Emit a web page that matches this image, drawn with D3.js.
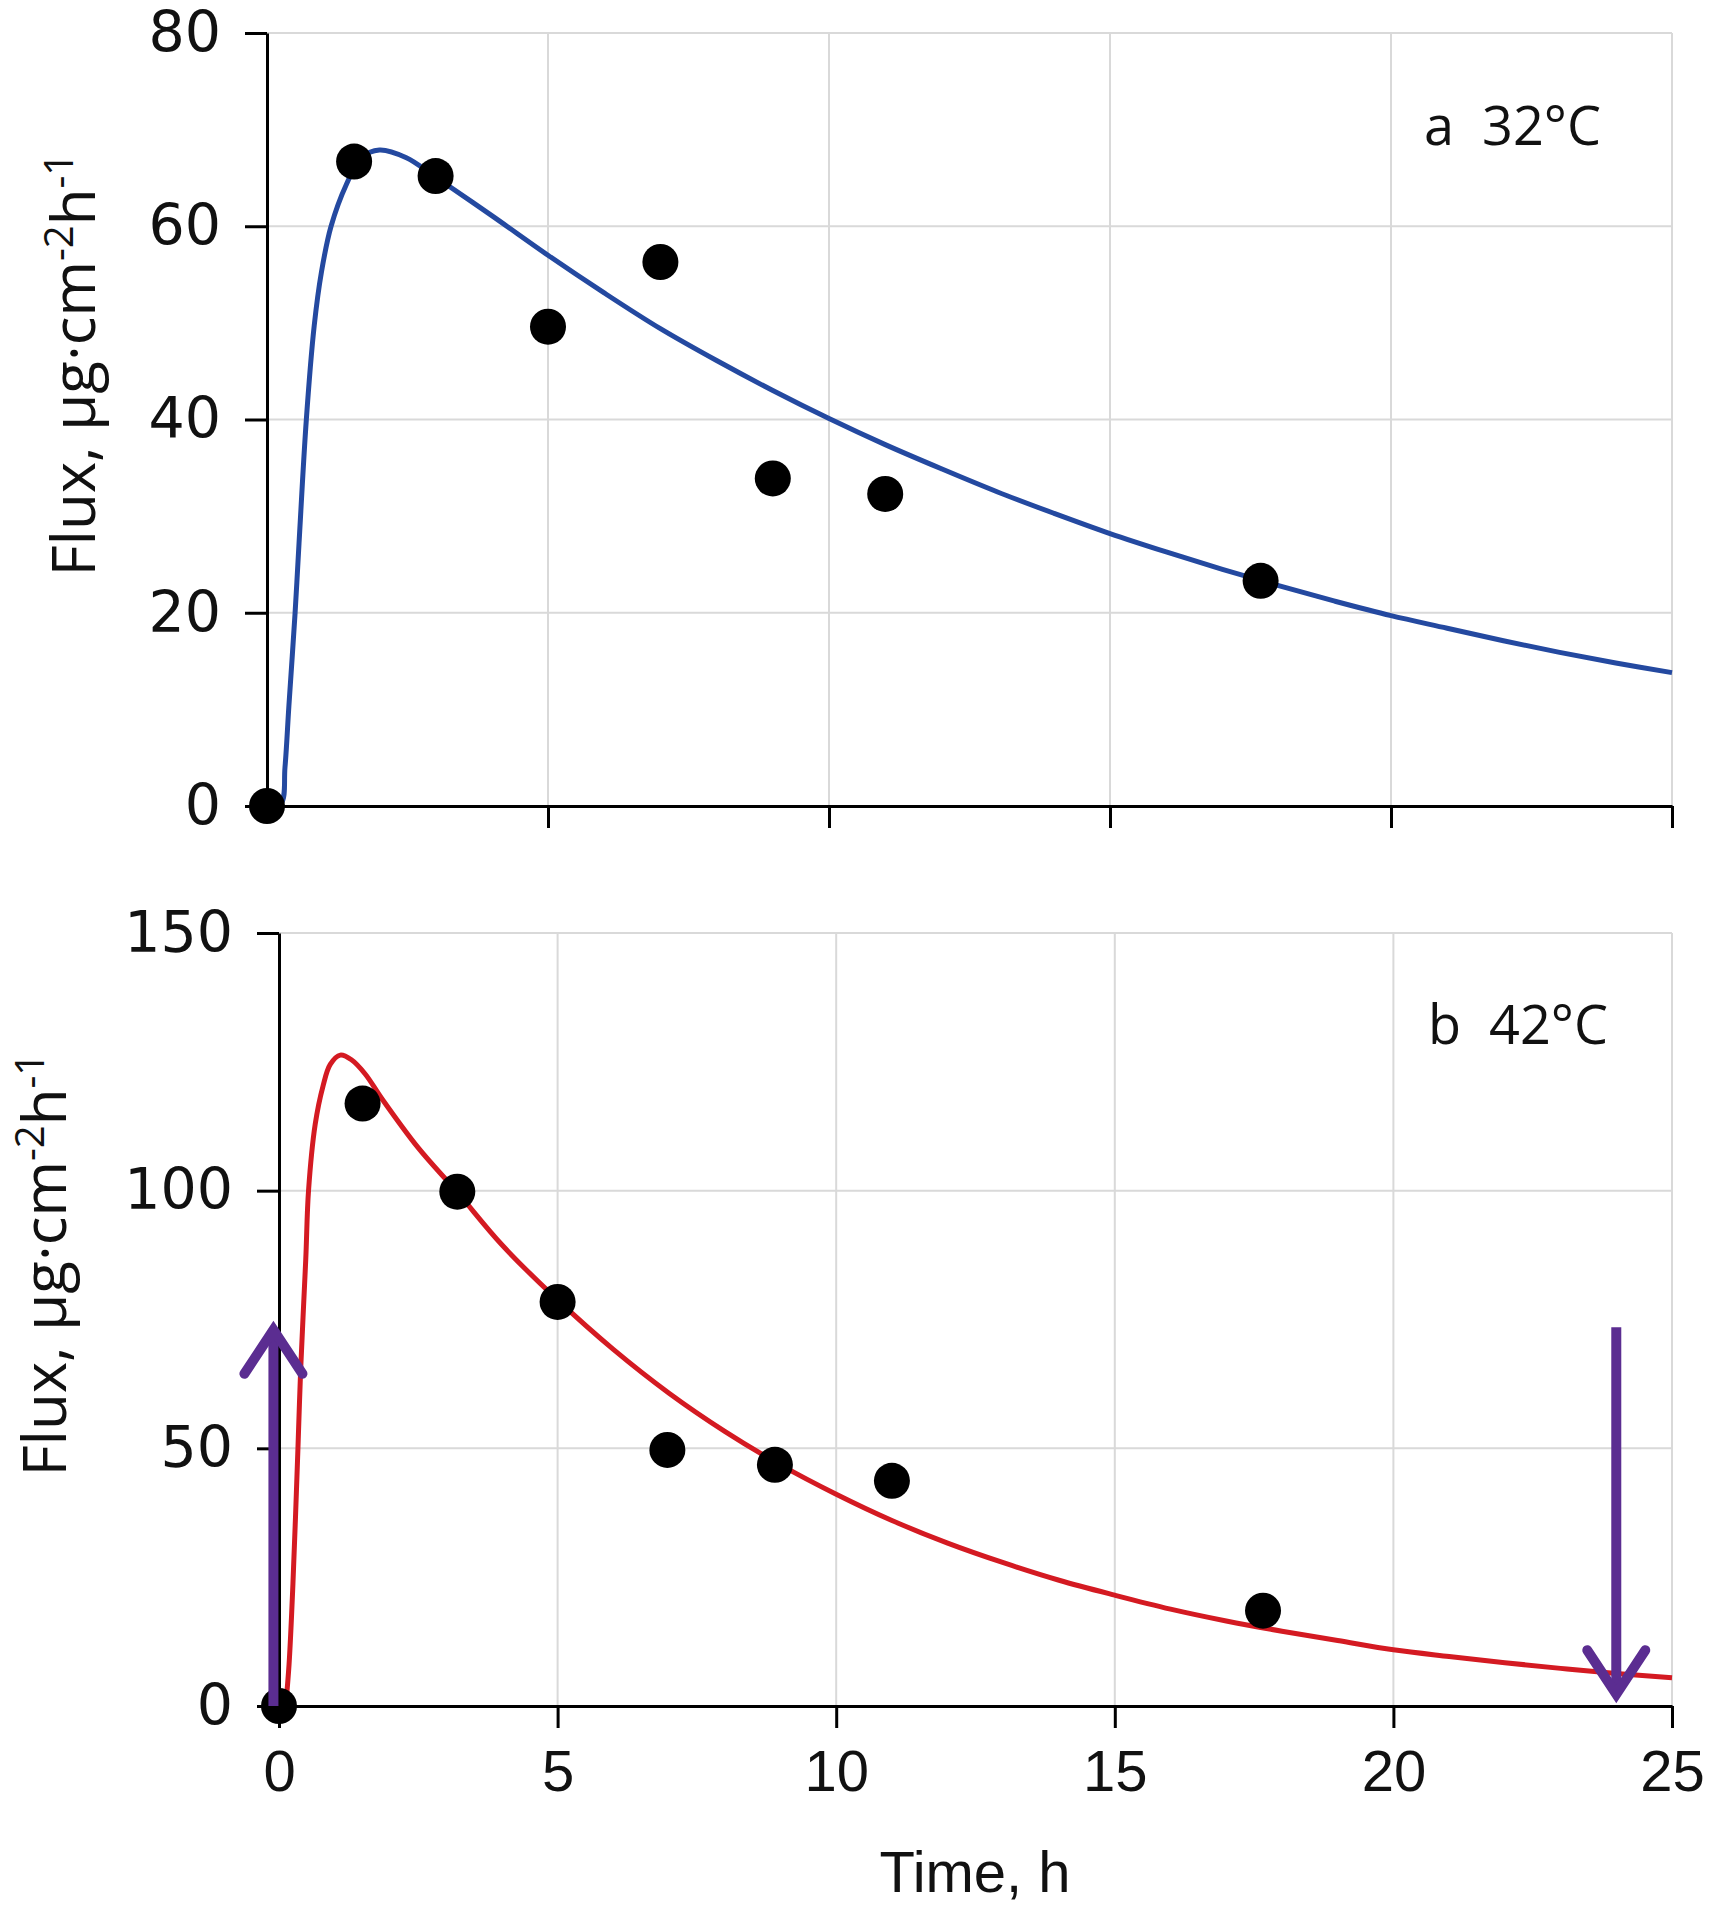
<!DOCTYPE html>
<html><head><meta charset="utf-8">
<script src="https://cdn.jsdelivr.net/npm/d3@7"></script>
<style>body{margin:0;background:#fff}</style></head>
<body><svg id="c" width="1711" height="1920"></svg>
<script>
// ---- data ----
const timeTicks = [0, 5, 10, 15, 20, 25];
const fluxTicksA = [0, 20, 40, 60, 80];
const fluxTicksB = [0, 50, 100, 150];

// observed points, panel a (32°C)
const obsTimeA = [0, 1.55, 3.0, 5.0, 7.0, 9.0, 11.0, 17.68];
const obsFluxA = [0, 66.7, 65.2, 49.6, 56.3, 33.9, 32.3, 23.3];
// observed points, panel b (42°C)
const obsTimeB = [0, 1.5, 3.2, 5.0, 6.97, 8.9, 11.0, 17.66];
const obsFluxB = [0, 116.9, 99.8, 78.4, 49.7, 46.8, 43.7, 18.5];

// fitted curve, panel a
const fitTimeA = [0, 0.25, 0.32, 0.39, 0.5, 0.57, 0.7, 0.84, 0.97, 1.14, 1.41, 1.68, 2.0, 2.48, 3.0, 4, 5, 6, 7, 8, 9, 10, 11, 12, 13, 14, 15, 16, 17, 18, 19, 20, 21, 22, 23, 24, 25];
const fitFluxA = [0, 0.3, 4, 10.4, 20, 27.2, 40, 49.7, 55.3, 60, 64.3, 67.1, 67.9, 67.1, 65.1, 61.1, 57.0, 53.1, 49.4, 46.1, 43.0, 40.1, 37.4, 34.9, 32.5, 30.3, 28.2, 26.3, 24.5, 22.8, 21.2, 19.7, 18.4, 17.1, 15.9, 14.8, 13.8];
// fitted curve, panel b
const fitTimeB = [0.12, 0.18, 0.25, 0.34, 0.39, 0.48, 0.53, 0.65, 0.79, 0.92, 1.1, 1.3, 1.55, 1.85, 2.5, 3.2, 4, 5, 6, 7, 8, 9, 10, 11, 12, 13, 14, 15, 16, 17, 18, 19, 20, 21, 22, 23, 24, 25];
const fitFluxB = [0, 8, 23.7, 50, 65.6, 86.6, 100, 112.9, 120.3, 124.5, 126.3, 125.4, 122.6, 117.8, 108.3, 99.7, 89.5, 78.8, 69.2, 60.7, 53.3, 46.8, 41.1, 36.0, 31.6, 27.8, 24.4, 21.5, 18.8, 16.5, 14.5, 12.7, 10.9, 9.6, 8.4, 7.3, 6.3, 5.5];

// arrows in panel b
const arrowTime = [-0.1, 24];
const arrowFrom = [0, 73.5];
const arrowTo = [73, 2.3];

const labelA = "a\u00A0\u00A032°C";
const labelB = "b\u00A0\u00A042°C";

// ---- drawing ----
const svg = d3.select("#c");

function panel(cfg) {
  const x = d3.scaleLinear().domain([0, 25]).range([cfg.left, cfg.right]);
  const y = d3.scaleLinear().domain([0, cfg.ymax]).range([cfg.bottom, cfg.top]);
  const g = svg.append("g");

  // gridlines
  g.append("g").selectAll("line").data(cfg.yticks.filter(d => d > 0)).join("line")
    .attr("x1", cfg.left).attr("x2", cfg.right)
    .attr("y1", d => y(d)).attr("y2", d => y(d))
    .attr("stroke", "#d9d9d9").attr("stroke-width", 2);
  g.append("g").selectAll("line").data(timeTicks.filter(d => d > 0)).join("line")
    .attr("x1", d => x(d)).attr("x2", d => x(d))
    .attr("y1", cfg.top).attr("y2", cfg.bottom)
    .attr("stroke", "#d9d9d9").attr("stroke-width", 2);

  // fit curve
  const pts = cfg.fitT.map((t, i) => [t, cfg.fitF[i]]);
  g.append("path").datum(pts)
    .attr("d", d3.line().x(d => x(d[0])).y(d => y(d[1])).curve(d3.curveCatmullRom.alpha(0.5)))
    .attr("fill", "none").attr("stroke", cfg.color).attr("stroke-width", 5)
    .attr("stroke-linejoin", "round");

  // axes
  const ya = g.append("g").attr("transform", `translate(${cfg.left},0)`)
    .call(d3.axisLeft(y).tickValues(cfg.yticks).tickSize(22).tickPadding(24).tickSizeOuter(0));
  ya.attr("font-family", "'DejaVu Sans', sans-serif").attr("font-size", 57);
  ya.selectAll("path,line").attr("stroke", "#000").attr("stroke-width", 3);
  ya.selectAll("text").attr("fill", "#111");

  const xa = g.append("g").attr("transform", `translate(0,${cfg.bottom})`)
    .call(d3.axisBottom(x).tickValues(cfg.xTickVals).tickSize(22).tickPadding(22).tickSizeOuter(0)
      .tickFormat(cfg.xLabels ? d3.format("d") : () => ""));
  xa.attr("font-family", "'Liberation Sans', Arial, sans-serif").attr("font-size", 58);
  xa.selectAll("path,line").attr("stroke", "#000").attr("stroke-width", 3);
  xa.selectAll("text").attr("fill", "#111");

  // observed points
  g.append("g").selectAll("circle").data(cfg.obsT.map((t, i) => [t, cfg.obsF[i]])).join("circle")
    .attr("cx", d => x(d[0])).attr("cy", d => y(d[1])).attr("r", 18).attr("fill", "#000");

  // y title
  const tt = g.append("text")
    .attr("transform", `translate(${cfg.titleX},${(cfg.top + cfg.bottom) / 2 + cfg.titleDy}) rotate(-90)`)
    .attr("text-anchor", "middle").attr("dy", "0.35em")
    .attr("font-family", "'Open Sans', sans-serif").attr("font-size", 60).attr("fill", "#111");
  tt.append("tspan").text("Flux, µg·cm");
  tt.append("tspan").attr("font-size", 40).attr("dy", -22).text("-2");
  tt.append("tspan").attr("dy", 22).text("h");
  tt.append("tspan").attr("font-size", 40).attr("dy", -22).text("-1");

  // panel label
  g.append("text").attr("x", cfg.labelX).attr("y", cfg.labelY).attr("text-anchor", "end")
    .attr("font-family", "'Open Sans', sans-serif").attr("font-size", 54).attr("fill", "#111")
    .text(cfg.label);

  return { x, y, g };
}

panel({
  left: 267, right: 1672, top: 33, bottom: 806, ymax: 80, yticks: fluxTicksA,
  xTickVals: [5, 10, 15, 20, 25], xLabels: false,
  fitT: fitTimeA, fitF: fitFluxA, color: "#2449a0",
  obsT: obsTimeA, obsF: obsFluxA,
  titleX: 74, titleDy: -55, label: labelA, labelX: 1601, labelY: 145
});

const pb = panel({
  left: 279, right: 1672, top: 933, bottom: 1706, ymax: 150, yticks: fluxTicksB,
  xTickVals: timeTicks, xLabels: true,
  fitT: fitTimeB, fitF: fitFluxB, color: "#d41a22",
  obsT: obsTimeB, obsF: obsFluxB,
  titleX: 45, titleDy: -55, label: labelB, labelX: 1608, labelY: 1044
});

// arrows
const purple = "#5b2d91";
arrowTime.forEach((t, i) => {
  const ax = pb.x(t), y1 = pb.y(arrowFrom[i]), y2 = pb.y(arrowTo[i]);
  const dir = y2 < y1 ? 1 : -1; // 1 = pointing up
  pb.g.append("line").attr("x1", ax).attr("x2", ax).attr("y1", y1).attr("y2", y2)
    .attr("stroke", purple).attr("stroke-width", 10);
  pb.g.append("path")
    .attr("d", `M${ax - 29},${y2 + dir * 44} L${ax},${y2} L${ax + 29},${y2 + dir * 44}`)
    .attr("fill", "none").attr("stroke", purple).attr("stroke-width", 10)
    .attr("stroke-linecap", "round").attr("stroke-linejoin", "miter");
});

// x title
svg.append("text").attr("x", 975).attr("y", 1892).attr("text-anchor", "middle")
  .attr("font-family", "'Liberation Sans', Arial, sans-serif").attr("font-size", 58).attr("fill", "#111")
  .text("Time, h");
</script>
</body></html>
